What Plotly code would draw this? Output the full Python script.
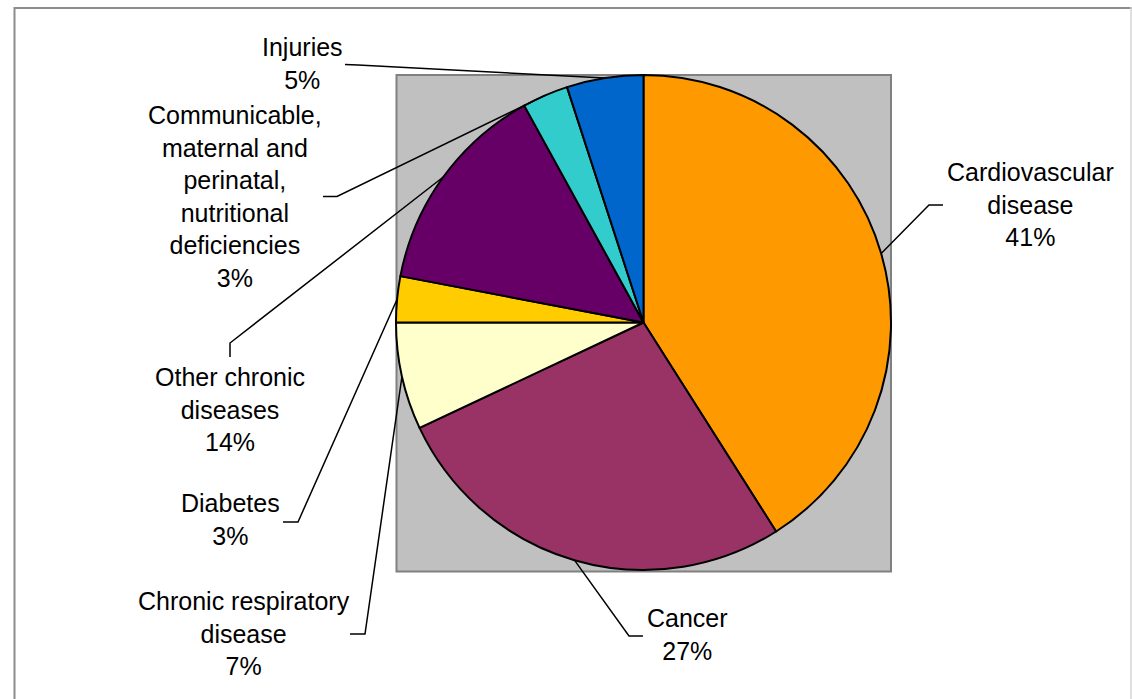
import math
import plotly.graph_objects as go

# ---------------- data ----------------
categories = [
    "Cardiovascular disease",
    "Cancer",
    "Chronic respiratory disease",
    "Diabetes",
    "Other chronic diseases",
    "Communicable, maternal and perinatal, nutritional deficiencies",
    "Injuries",
]
label_names = [
    "Cardiovascular<br>disease",
    "Cancer",
    "Chronic respiratory<br>disease",
    "Diabetes",
    "Other chronic<br>diseases",
    "Communicable,<br>maternal and<br>perinatal,<br>nutritional<br>deficiencies",
    "Injuries",
]
values = [41, 27, 7, 3, 14, 3, 5]
colors = ["#FF9900", "#993366", "#FFFFCC", "#FFCC00", "#660066", "#33CCCC", "#0066CC"]

# ---------------- layout constants (pixels) ----------------
W, H = 1132, 699
CX, CY, R = 643.5, 322.5, 247.5
FONT = "Liberation Sans, Arial, sans-serif"
FS = 25

# label centres and leader-line elbows (pixel positions)
label_pos = [(1030, 204), (687, 634), (244, 633), (230, 519), (230, 409), (235, 196), (302, 63)]
leader_start = [(943, 205), (643, 636), (350, 634), (283, 522), (230, 357), (323, 196.5), (345, 64.5)]
leader_elbow = [(929, 205), (629, 636), (365, 634), (298, 522), (230, 343), (337, 196.5), (358, 65)]


def px(x):
    return x / W


def py(y):
    return 1 - y / H


fig = go.Figure()
fig.add_trace(go.Pie(
    labels=categories,
    values=values,
    sort=False,
    direction="clockwise",
    rotation=0,
    marker=dict(colors=colors, line=dict(color="black", width=2)),
    textinfo="none",
    hoverinfo="label+percent",
    domain=dict(x=[px(CX - R), px(CX + R)], y=[py(CY + R), py(CY - R)]),
    showlegend=False,
))

shapes = []
# outer chart border
shapes.append(dict(type="line", xref="paper", yref="paper", x0=px(14), x1=px(1132), y0=py(8), y1=py(8),
                   line=dict(color="#8c8c8c", width=2), layer="below"))
shapes.append(dict(type="line", xref="paper", yref="paper", x0=px(14.5), x1=px(14.5), y0=py(7), y1=py(710),
                   line=dict(color="#8c8c8c", width=2), layer="below"))
shapes.append(dict(type="line", xref="paper", yref="paper", x0=px(1131), x1=px(1131), y0=py(7), y1=py(710),
                   line=dict(color="#d4d4d4", width=1.5), layer="below"))
# grey plot area square
shapes.append(dict(type="rect", xref="paper", yref="paper", x0=px(396.5), x1=px(891), y0=py(571.5), y1=py(75),
                   fillcolor="#C0C0C0", line=dict(color="#808080", width=2), layer="below"))

# leader lines to the mid-angle of every slice
total = sum(values)
cum = 0.0
annotations = []
for i, v in enumerate(values):
    mid = (cum + v / 2) / total * 2 * math.pi
    cum += v
    ex = CX + R * math.sin(mid)
    ey = CY - R * math.cos(mid)
    sx, sy = leader_start[i]
    bx, by = leader_elbow[i]
    path = f"M {px(sx)},{py(sy)} L {px(bx)},{py(by)} L {px(ex)},{py(ey)}"
    shapes.append(dict(type="path", xref="paper", yref="paper", path=path,
                       line=dict(color="black", width=1.5), layer="above"))
    pct = f"{round(v / total * 100)}%"
    lx, ly = label_pos[i]
    annotations.append(dict(
        x=px(lx), y=py(ly), xref="paper", yref="paper",
        text=f"{label_names[i]}<br>{pct}", showarrow=False,
        xanchor="center", yanchor="middle", align="center",
        font=dict(family=FONT, size=FS, color="black"),
    ))

fig.update_layout(
    width=W, height=H,
    margin=dict(l=0, r=0, t=0, b=0),
    paper_bgcolor="white",
    plot_bgcolor="white",
    shapes=shapes,
    annotations=annotations,
    showlegend=False,
)

fig.write_html(
    "out.html",
    config={"displayModeBar": False},
    post_script="document.body.style.margin='0';document.body.style.overflow='hidden';",
)
